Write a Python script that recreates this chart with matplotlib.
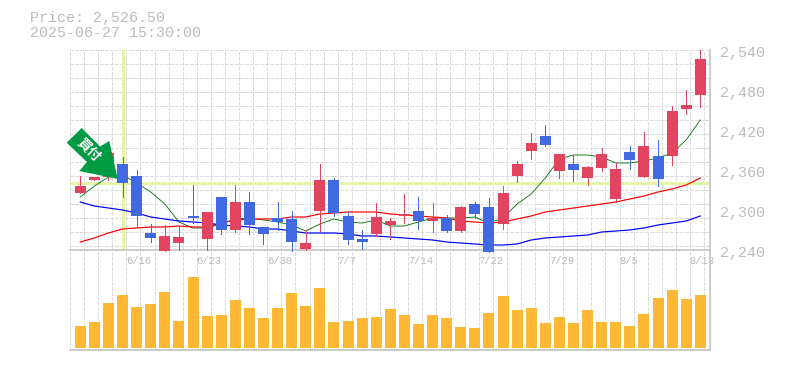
import matplotlib
matplotlib.use("Agg")
import matplotlib.pyplot as plt
from matplotlib.patches import Polygon
import numpy as np

plt.rcParams['font.family'] = ['Liberation Mono', 'DejaVu Sans']

price_text = "Price: 2,526.50"
time_text = "2025-06-27 15:30:00"
signal_text = "買付"
signal_index = 3
signal_price = 2340.5

opens = [2325.5, 2345, 2350, 2369, 2351, 2265.5, 2239, 2250.5, 2291, 2256.5, 2319.5, 2270, 2312, 2274.5, 2288,
         2286.5, 2241, 2298.5, 2345, 2291, 2256.5, 2264, 2277.5, 2291, 2298.5, 2283.5, 2288, 2268.5, 2309, 2304.5,
         2279, 2351, 2388.5, 2411, 2358.5, 2369, 2348, 2363, 2316.5, 2387, 2349.5, 2381, 2381, 2451.5, 2472.5]
closes = [2336, 2349, 2385, 2340, 2291, 2258, 2261, 2259.5, 2288, 2297, 2270, 2312, 2277.5, 2264, 2282,
          2252, 2250.5, 2345, 2295.5, 2255, 2252, 2289.5, 2283.5, 2294, 2283.5, 2288, 2268.5, 2304.5, 2294, 2237,
          2325.5, 2369, 2400.5, 2397.5, 2384, 2360, 2364.5, 2384, 2361.5, 2375, 2396, 2346.5, 2448.5, 2457.5, 2526.5]
highs = [2351, 2350, 2390, 2379.5, 2360, 2279, 2277.5, 2276, 2337.5, 2297, 2319.5, 2337.5, 2327, 2274.5, 2312,
         2298.5, 2270, 2369, 2348, 2297, 2270, 2310.5, 2288, 2324, 2319.5, 2310.5, 2292.5, 2306, 2312, 2318,
         2336, 2373.5, 2415.5, 2427.5, 2384, 2382.5, 2366, 2393, 2370.5, 2396, 2417, 2405, 2456, 2480, 2540]
lows = [2325.5, 2345, 2345, 2319.5, 2274.5, 2252, 2239, 2240, 2280.5, 2240, 2264, 2267, 2264, 2249, 2270,
        2238.5, 2240, 2268.5, 2291, 2249, 2241.5, 2261, 2256.5, 2280.5, 2271.5, 2267, 2267, 2267, 2288, 2237,
        2271.5, 2342, 2376.5, 2396, 2348, 2343.5, 2337.5, 2358.5, 2312, 2361.5, 2349.5, 2336, 2367.5, 2444, 2454.5]

ma_short = [2319.5, 2336, 2349.5, 2352.5, 2340.5, 2327, 2309, 2282, 2273, 2273, 2279, 2286.5, 2288, 2285, 2282,
            2277.5, 2268.5, 2279, 2286.5, 2282, 2280.5, 2285, 2276, 2276, 2282, 2288, 2288, 2288, 2289.5, 2280.5,
            2288, 2309, 2324, 2348, 2376.5, 2382.5, 2382.5, 2379.5, 2370.5, 2370.5, 2373.5, 2378, 2385.5, 2405, 2435]
ma_mid = [2252, 2258, 2265.5, 2271.5, 2273, 2274.5, 2274.5, 2276, 2274.5, 2274.5, 2280.5, 2285, 2286.5, 2286.5, 2286.5,
          2289.5, 2289.5, 2294, 2295.5, 2297, 2297, 2297, 2294, 2292.5, 2291, 2289.5, 2288, 2283.5, 2282, 2280.5,
          2282, 2286.5, 2291, 2297, 2300, 2303, 2306, 2309, 2312, 2316.5, 2321, 2327, 2331.5, 2337.5, 2348]
ma_long = [2312, 2306, 2303, 2300, 2295.5, 2289.5, 2286.5, 2283.5, 2282, 2280.5, 2277.5, 2276, 2274.5, 2271.5, 2271.5,
           2268.5, 2265.5, 2265.5, 2265.5, 2264, 2261, 2261, 2259.5, 2258, 2256.5, 2255, 2252, 2250.5, 2249, 2247.5,
           2247.5, 2249, 2255, 2258, 2259.5, 2261, 2262.5, 2267, 2268.5, 2270, 2273, 2277.5, 2280.5, 2283.5, 2291]

volumes = [22, 26, 45, 53, 41, 44, 56, 27, 71, 32, 33, 48, 40, 30, 40,
           55, 42, 60, 26, 27, 30, 31, 39, 33, 24, 33, 30, 21, 20, 35,
           52, 38, 40, 25, 31, 25, 38, 26, 26, 22, 34, 50, 58, 49, 53]

date_labels = ["6/16", "6/23", "6/30", "7/7", "7/14", "7/22", "7/29", "8/5", "8/13"]
date_index = [4, 9, 14, 19, 24, 29, 34, 39, 44]
price_labels = ["2,540", "2,480", "2,420", "2,360", "2,300", "2,240"]
price_ticks = [2540, 2480, 2420, 2360, 2300, 2240]

RED = '#e2445f'
BLUE = '#4169e1'
ORANGE = '#ffb833'
BAND = '#e3f6a6'
TEXT = '#bbbbbb'
PX = 0.72  # one pixel in points at dpi 100

W, H = 785, 370


def px_axes(fig, left, top, right, bottom):
    return fig.add_axes([left / W, (H - bottom) / H, (right - left) / W, (bottom - top) / H])


def style_axes(ax):
    ax.set_xlim(-0.73, 44.69)
    ax.set_xticks(np.arange(-0.73, 44.7, 1.0))
    ax.tick_params(length=0, labelbottom=False, labelleft=False)
    ax.grid(True, color='#dddddd', linewidth=PX, linestyle=(0, (3, 2)), antialiased=False)
    ax.set_axisbelow(True)
    ax.patch.set_visible(False)
    for side in ['top', 'left']:
        ax.spines[side].set_visible(False)
    for side in ['bottom', 'right']:
        ax.spines[side].set_color('#bdbdbd')
        ax.spines[side].set_linewidth(1.5 * PX)


fig = plt.figure(figsize=(W / 100, H / 100), dpi=100)
vol = px_axes(fig, 70, 250, 710, 350)
ax = px_axes(fig, 70, 50, 710, 250)
style_axes(ax)
style_axes(vol)

# price panel
ax.set_ylim(2240, 2540)
ax.set_yticks(np.arange(2540, 2240, -21))
x = np.arange(len(closes))
up = np.array(closes) >= np.array(opens)
colors = [RED if u else BLUE for u in up]

ax.axhline(signal_price, color=BAND, linewidth=3 * PX, zorder=1.5)
ax.axvline(signal_index, ymin=0.007, color=BAND, linewidth=3 * PX, zorder=1.5)

for values, col, lw in [(ma_short, '#007000', 0.85), (ma_mid, '#ff0000', 1.2), (ma_long, '#0000ff', 1.2)]:
    ax.plot(x, values, color=col, linewidth=lw * PX, zorder=2)

ax.vlines(x, lows, highs, colors=colors, linewidth=PX, antialiased=False, zorder=3, clip_on=False)
ax.bar(x, np.array(closes) - np.array(opens), bottom=opens, width=0.78, color=colors, zorder=3, clip_on=False)

for lab, val in zip(price_labels, price_ticks):
    ax.annotate(lab, (1, val), xycoords=('axes fraction', 'data'), xytext=(10 * PX, -3 * PX),
                textcoords='offset points', ha='left', va='center', fontsize=15 * PX, color=TEXT)
for lab, i in zip(date_labels, date_index):
    ax.annotate(lab, (i, 0), xycoords=('data', 'axes fraction'), xytext=(-10.5 * PX, -11.5 * PX),
                textcoords='offset points', ha='left', va='center', fontsize=10.5 * PX, color=TEXT,
                annotation_clip=False)

# volume panel
vol.set_ylim(-2, 98)
vol.set_yticks([])
vol.bar(x, volumes, width=0.78, color=ORANGE, zorder=3)

# header text
fig.text(30 / W, 1 - 18 / H, price_text, fontsize=15 * PX, color=TEXT, va='center', ha='left')
fig.text(30 / W, 1 - 33 / H, time_text, fontsize=15 * PX, color=TEXT, va='center', ha='left')

# signal arrow
arrow = [(66.7, 142.7), (81.7, 128), (100, 146.5), (109.3, 141), (117.7, 179), (79.3, 171), (87, 162)]
fig.add_artist(Polygon([(a / W, 1 - b / H) for a, b in arrow], closed=True, transform=fig.transFigure,
                       facecolor='#009944', edgecolor='none', zorder=10))
fig.text(89 / W, 1 - 150 / H, signal_text, family=['Noto Sans CJK JP', 'DejaVu Sans'], fontsize=13.5 * PX,
         fontweight='bold', color='white', rotation=-45, ha='center', va='center', zorder=11,
         rotation_mode='anchor')

fig.savefig('out.png', dpi=100)
